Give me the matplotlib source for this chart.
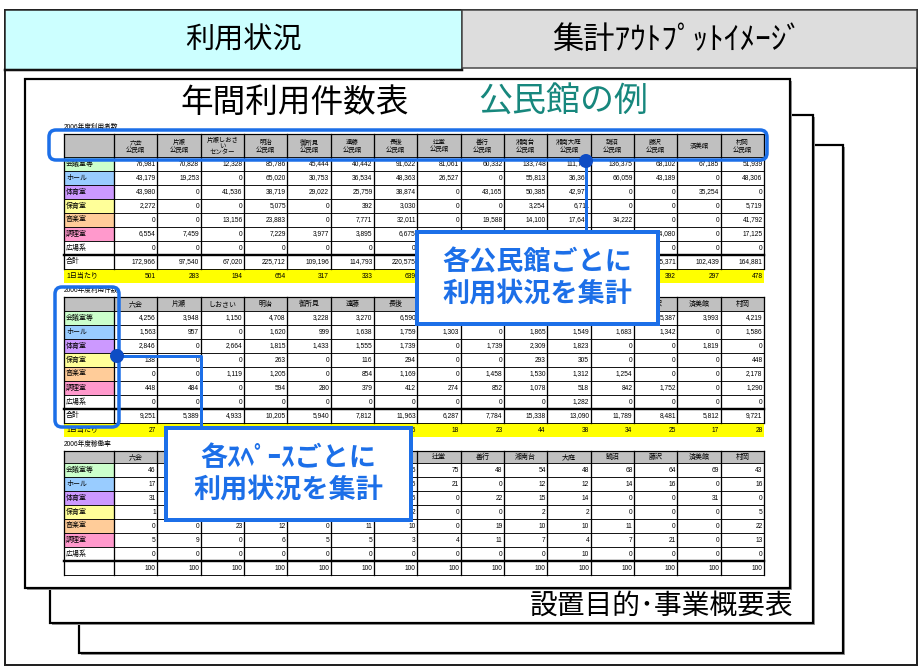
import matplotlib
matplotlib.use("Agg")
import matplotlib.pyplot as plt
from matplotlib.patches import Rectangle, FancyBboxPatch, Circle

# 施設名（上段表は2行見出し、下2表は略称）
hallsLong = ["六会\n公民館", "片瀬\n公民館", "片瀬しおさ\nい\nセンター", "明治\n公民館", "御所見\n公民館",
             "遠藤\n公民館", "長後\n公民館", "辻堂\n公民館", "善行\n公民館", "湘南台\n公民館",
             "湘南大庭\n公民館", "鵠沼\n公民館", "藤沢\n公民館", "済美館", "村岡\n公民館"]
hallsShort = ["六会", "片瀬", "しおさい", "明治", "御所見", "遠藤", "長後", "辻堂", "善行", "湘南台",
              "大庭", "鵠沼", "藤沢", "済美館", "村岡"]
spaces = ["会議室等", "ホール", "体育室", "保育室", "音楽室", "調理室", "広場系"]
spaceColors = ["#CCFFCC", "#99CCFF", "#CC99FF", "#FFFF99", "#FFCC99", "#FF99CC", "#FFFFFF"]

# 2006年度利用者数
users = [
  [76981, 70828, 12328, 85786, 45444, 40442, 91622, 81061, 60332, 133748, 111746, 136375, 68102, 67185, 51939],
  [43179, 19253, 0, 65020, 30753, 36534, 48363, 26527, 0, 55813, 36369, 66059, 43189, 0, 48306],
  [43980, 0, 41536, 38719, 29022, 25759, 38874, 0, 43165, 50385, 42977, 0, 0, 35254, 0],
  [2272, 0, 0, 5075, 0, 392, 3030, 0, 0, 3254, 6711, 0, 0, 0, 5719],
  [0, 0, 13156, 23883, 0, 7771, 32011, 0, 19588, 14100, 17649, 34222, 0, 0, 41792],
  [6554, 7459, 0, 7229, 3977, 3895, 6675, 9800, 8200, 12000, 5900, 9600, 24080, 0, 17125],
  [0, 0, 0, 0, 0, 0, 0, 0, 0, 0, 15000, 0, 0, 0, 0],
]
usersTotal = [172966, 97540, 67020, 225712, 109196, 114793, 220575, 117388, 131285, 269300, 236352,
              246256, 135371, 102439, 164881]
usersPerDay = [501, 283, 194, 654, 317, 333, 639, 340, 381, 781, 685, 714, 392, 297, 478]

# 2006年度利用件数
counts = [
  [4256, 3948, 1150, 4708, 3228, 3270, 6590, 4710, 3735, 8263, 6301, 8010, 5387, 3993, 4219],
  [1563, 957, 0, 1620, 999, 1638, 1759, 1303, 0, 1865, 1549, 1683, 1342, 0, 1586],
  [2846, 0, 2664, 1815, 1433, 1555, 1739, 0, 1739, 2309, 1823, 0, 0, 1819, 0],
  [138, 0, 0, 263, 0, 116, 294, 0, 0, 293, 305, 0, 0, 0, 448],
  [0, 0, 1119, 1205, 0, 854, 1169, 0, 1458, 1530, 1312, 1254, 0, 0, 2178],
  [448, 484, 0, 594, 280, 379, 412, 274, 852, 1078, 518, 842, 1752, 0, 1290],
  [0, 0, 0, 0, 0, 0, 0, 0, 0, 0, 1282, 0, 0, 0, 0],
]
countsTotal = [9251, 5389, 4933, 10205, 5940, 7812, 11963, 6287, 7784, 15338, 13090, 11789, 8481, 5812, 9721]
countsPerDay = [27, 16, 14, 30, 17, 23, 35, 18, 23, 44, 38, 34, 25, 17, 28]

# 2006年度稼働率
rates = [
  [46, 73, 23, 45, 54, 42, 55, 75, 48, 54, 48, 68, 64, 69, 43],
  [17, 18, 0, 16, 17, 21, 15, 21, 0, 12, 12, 14, 16, 0, 16],
  [31, 0, 54, 18, 24, 20, 15, 0, 22, 15, 14, 0, 0, 31, 0],
  [1, 0, 0, 3, 0, 1, 2, 0, 0, 2, 2, 0, 0, 0, 5],
  [0, 0, 23, 12, 0, 11, 10, 0, 19, 10, 10, 11, 0, 0, 22],
  [5, 9, 0, 6, 5, 5, 3, 4, 11, 7, 4, 7, 21, 0, 13],
  [0, 0, 0, 0, 0, 0, 0, 0, 0, 0, 10, 0, 0, 0, 0],
]
ratesTotal = [100] * 15

plt.rcParams['font.family'] = ['Liberation Sans', 'Noto Sans CJK JP']

PX = 0.72  # 1px in points at dpi 100
BLUE = '#1C6FE8'
DOT = '#0E4CC4'

# 吹き出し（x, y, w, h）
CALLOUTS = [((417, 232, 241, 92), ["各公民館ごとに", "利用状況を集計"]),
            ((166, 428, 245, 92), ["各ｽﾍﾟｰｽごとに", "利用状況を集計"])]

fig = plt.figure(figsize=(9.22, 6.68), dpi=100)
ax = fig.add_axes([0, 0, 1, 1])
ax.set_xlim(0, 922)
ax.set_ylim(668, 0)
ax.axis('off')


def hidden(x0, x1, y):
  # 吹き出しの下に完全に隠れるセル
  for (bx, by, bw, bh), _ in CALLOUTS:
    if bx <= x0 and x1 <= bx + bw and by <= y - 4 and y + 4 <= by + bh:
      return True
  return False


def drawFrames():
  ax.add_patch(Rectangle((5, 10), 912, 655, fc='white', ec='#222222', lw=2 * PX))
  ax.add_patch(Rectangle((5, 10), 457, 60, fc='#CCFFFF', ec='#222222', lw=1.5 * PX))
  ax.add_patch(Rectangle((462, 10), 455, 58, fc='#DDDDDD', ec='#444444', lw=1.5 * PX))
  ax.plot([5, 462], [70, 70], color='#111111', lw=2.5 * PX)
  ax.text(243, 41, "利用状況", fontsize=21, ha='center', va='center')
  ax.text(677, 41, "集計ｱｳﾄﾌﾟｯﾄｲﾒｰｼﾞ", fontsize=22.5, ha='center', va='center')

  # 重なったページ（奥から）
  for x0, y0, x1, y1 in [(79, 145, 843, 653), (50, 115, 813, 623), (25, 79, 790, 588)]:
    ax.add_patch(Rectangle((x0 + 2, y0 + 2), x1 - x0, y1 - y0, fc='#999999', ec='none'))
    ax.add_patch(Rectangle((x0, y0), x1 - x0, y1 - y0, fc='white', ec='black', lw=2.2 * PX))
    if y0 == 115:
      ax.text(530, 607, "設置目的･事業概要表", fontsize=20, ha='left', va='center')

  ax.text(180, 103, "年間利用件数表", fontsize=23.5, ha='left', va='center')
  ax.text(478, 103, "公民館の例", fontsize=24.5, ha='left', va='center', color='#17877D')


X0 = 64
LABEL_W = 50
COL_W = 650 / 15
ROW_H = 14


def drawTable(top, title, headers, headerH, rows, totals, totalLabel, perDay=None, headerSize=4.6):
  n = len(headers)
  xEnd = X0 + LABEL_W + COL_W * n
  colX = [X0 + LABEL_W + COL_W * j for j in range(n + 1)]
  ax.text(X0, top - 7, title, fontsize=4.8, ha='left', va='center')

  ax.add_patch(Rectangle((X0, top), xEnd - X0, headerH, fc='#C0C0C0', ec='none'))
  for j, h in enumerate(headers):
    cy = top + headerH / 2 + 0.5
    if hidden(colX[j] + 4, colX[j + 1] - 4, cy):
      continue
    ax.text(colX[j] + COL_W / 2, cy, h, fontsize=headerSize,
            ha='center', va='center', linespacing=1.2)

  y = top + headerH
  allRows = rows + [totals]
  labels = spaces + [totalLabel]
  colors = spaceColors + ['#FFFFFF']
  for i, (name, color, vals) in enumerate(zip(labels, colors, allRows)):
    ry = y + i * ROW_H
    ax.add_patch(Rectangle((X0, ry), LABEL_W, ROW_H, fc=color, ec='none'))
    ax.text(X0 + 2, ry + ROW_H / 2, name, fontsize=5, ha='left', va='center')
    for j, v in enumerate(vals):
      if hidden(colX[j + 1] - 25, colX[j + 1], ry + ROW_H / 2):
        continue
      ax.text(colX[j + 1] - 1.5, ry + ROW_H / 2, f"{v:,}", fontsize=4.8, ha='right', va='center')

  bottom = y + len(allRows) * ROW_H
  for k in range(len(allRows) + 1):
    ax.plot([X0, xEnd], [y + k * ROW_H] * 2, color='black', lw=0.9 * PX)
  ax.plot([X0, xEnd], [top, top], color='black', lw=1.2 * PX)
  ax.plot([X0, xEnd], [y + len(rows) * ROW_H] * 2, color='black', lw=2.4 * PX)
  for x in [X0] + colX:
    ax.plot([x, x], [top, bottom], color='black', lw=1.3 * PX)

  if perDay is not None:
    ax.add_patch(Rectangle((X0, bottom), xEnd - X0, ROW_H, fc='#FFFF00', ec='none'))
    ax.text(X0 + 2, bottom + ROW_H / 2, "1日当たり", fontsize=5, ha='left', va='center')
    for j, v in enumerate(perDay):
      if hidden(colX[j + 1] - 25, colX[j + 1], bottom + ROW_H / 2):
        continue
      ax.text(colX[j + 1] - 1.5, bottom + ROW_H / 2, f"{v:,}", fontsize=4.8, ha='right', va='center')


def drawCallouts():
  ax.add_patch(FancyBboxPatch((49, 130), 718, 30, boxstyle='round,pad=0,rounding_size=7',
                              fc='none', ec=BLUE, lw=3.5 * PX, zorder=8))
  ax.add_patch(FancyBboxPatch((55, 287), 64, 140, boxstyle='round,pad=0,rounding_size=7',
                              fc='none', ec=BLUE, lw=3.5 * PX, zorder=8))
  ax.plot([586, 586], [161, 232], color=BLUE, lw=3 * PX, zorder=9)
  ax.plot([117, 201, 201], [356, 356, 428], color=BLUE, lw=3 * PX, zorder=9)
  ax.add_patch(Circle((586, 161), 7, fc=DOT, ec='none', zorder=9))
  ax.add_patch(Circle((117, 356), 7, fc=DOT, ec='none', zorder=9))

  for (bx, by, bw, bh), lines in CALLOUTS:
    ax.add_patch(Rectangle((bx, by), bw, bh, fc='white', ec=BLUE, lw=4 * PX, zorder=10))
    for k, t in enumerate(lines):
      ax.text(bx + bw / 2, by + 31 + k * 32, t, fontsize=19.5, fontweight='bold', color=BLUE,
              ha='center', va='center', zorder=11)


drawFrames()
drawTable(134, "2006年度利用者数", hallsLong, 23, users, usersTotal, "合計", usersPerDay)
drawTable(297, "2006年度利用件数", hallsShort, 14, counts, countsTotal, "合計", countsPerDay, headerSize=5)
drawTable(451, "2006年度稼働率", hallsShort, 12, rates, ratesTotal, "", None, headerSize=5)
drawCallouts()

fig.savefig("out.png", dpi=100)
